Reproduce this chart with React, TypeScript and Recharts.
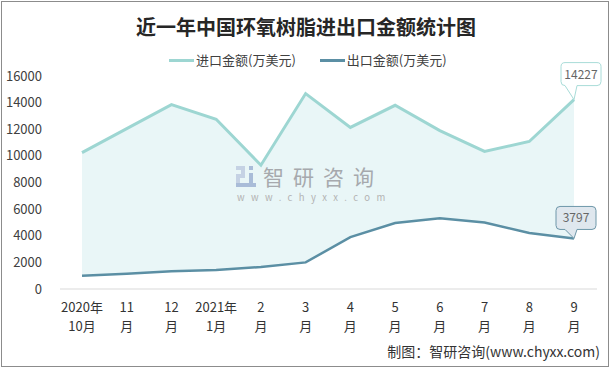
import React from "react";
import {
  Area,
  ComposedChart,
  LabelList,
  Line,
  XAxis,
  YAxis,
} from "recharts";

const months = [
  ["2020年", "10月"],
  ["11", "月"],
  ["12", "月"],
  ["2021年", "1月"],
  ["2", "月"],
  ["3", "月"],
  ["4", "月"],
  ["5", "月"],
  ["6", "月"],
  ["7", "月"],
  ["8", "月"],
  ["9", "月"],
];
const importValues = [10240, 12050, 13850, 12750, 9300, 14680, 12140, 13800, 11900, 10340, 11080, 14227];
const exportValues = [1000, 1150, 1340, 1420, 1650, 2000, 3900, 4950, 5320, 5000, 4200, 3797];
const yTicks = [0, 2000, 4000, 6000, 8000, 10000, 12000, 14000, 16000];

const IMPORT_COLOR = "#9dd6d2";
const EXPORT_COLOR = "#5b8fa4";
const FONT = '"Noto Sans CJK SC", "Noto Sans", sans-serif';

const chartData = months.map((m, i) => ({
  name: m.join(""),
  imp: importValues[i],
  exp: exportValues[i],
  range: [exportValues[i], importValues[i]],
}));

const MonthTick = (props: any) => {
  const { x, y, index } = props;
  const m = months[index] || ["", ""];
  return (
    <g>
      <text x={x} y={y + 23} textAnchor="middle" fontSize={13} fill="#333" fontFamily={FONT}>
        {m[0]}
      </text>
      <text x={x} y={y + 42} textAnchor="middle" fontSize={13} fill="#333" fontFamily={FONT}>
        {m[1]}
      </text>
    </g>
  );
};

// callout bubble only on the last point
const makeCallout = (fill: string, stroke: string, dx: number, dy: number) => (props: any) => {
  const { x, y, value, index } = props;
  if (index !== months.length - 1) return null;
  const w = 40;
  const h = 23;
  const left = x + dx;
  const top = y + dy;
  const bottom = top + h;
  const r = 4;
  const path = [
    `M${left + r},${top}`,
    `H${left + w - r}`,
    `Q${left + w},${top} ${left + w},${top + r}`,
    `V${bottom - r}`,
    `Q${left + w},${bottom} ${left + w - r},${bottom}`,
    `H${x + 3}`,
    `L${x},${y}`,
    `L${x - 9},${bottom}`,
    `H${left + r}`,
    `Q${left},${bottom} ${left},${bottom - r}`,
    `V${top + r}`,
    `Q${left},${top} ${left + r},${top}`,
    "Z",
  ].join(" ");
  return (
    <g>
      <path d={path} fill={fill} stroke={stroke} strokeWidth={1} />
      <text
        x={left + w / 2}
        y={top + h / 2 + 4.5}
        textAnchor="middle"
        fontSize={12}
        fill="#666"
        fontFamily={FONT}
      >
        {value}
      </text>
    </g>
  );
};

export default function App() {
  return (
    <div
      style={{
        position: "absolute",
        left: 0,
        top: 0,
        width: 612,
        height: 369,
        background: "#fff",
        fontFamily: FONT,
      }}
    >
      <div
        style={{
          position: "absolute",
          left: 1,
          top: 1,
          width: 608,
          height: 366,
          border: "1px solid #8c8c8c",
          boxSizing: "border-box",
        }}
      />
      <div
        style={{
          position: "absolute",
          left: 0,
          top: 13,
          width: 612,
          textAlign: "center",
          fontSize: 20,
          fontWeight: "bold",
          color: "#262626",
          lineHeight: "28px",
        }}
      >
        近一年中国环氧树脂进出口金额统计图
      </div>
      <div
        style={{
          position: "absolute",
          left: 169,
          top: 51,
          display: "flex",
          alignItems: "center",
          fontSize: 13,
          color: "#404040",
          lineHeight: "18px",
        }}
      >
        <span style={{ width: 25, height: 3, background: IMPORT_COLOR, marginRight: 2 }} />
        <span>进口金额(万美元)</span>
        <span style={{ width: 25, height: 3, background: EXPORT_COLOR, marginLeft: 24, marginRight: 2 }} />
        <span>出口金额(万美元)</span>
      </div>

      <div style={{ position: "absolute", left: 0, top: 0 }}>
        <ComposedChart
          width={612}
          height={369}
          data={chartData}
          margin={{ top: 76, right: 15, bottom: 30, left: 0 }}
        >
          <XAxis
            dataKey="name"
            height={50}
            padding={{ left: 22, right: 23 }}
            axisLine={{ stroke: "#d9d9d9", strokeWidth: 1 }}
            tickLine={false}
            tickSize={0}
            tickMargin={0}
            interval={0}
            tick={<MonthTick />}
          />
          <YAxis
            width={60}
            domain={[0, 16000]}
            ticks={yTicks}
            axisLine={false}
            tickLine={false}
            tickSize={0}
            tickMargin={18}
            tick={{ fontSize: 13, fill: "#404040", fontFamily: FONT }}
          />
          <Area
            dataKey="range"
            type="linear"
            stroke="none"
            fill="#e9f6f7"
            fillOpacity={1}
            isAnimationActive={false}
          />
          <Line
            dataKey="imp"
            type="linear"
            stroke={IMPORT_COLOR}
            strokeWidth={3}
            dot={false}
            isAnimationActive={false}
          >
            <LabelList dataKey="imp" content={makeCallout("#ffffff", "#a8dcd8", -13, -37)} />
          </Line>
          <Line
            dataKey="exp"
            type="linear"
            stroke={EXPORT_COLOR}
            strokeWidth={2.5}
            dot={false}
            isAnimationActive={false}
          >
            <LabelList dataKey="exp" content={makeCallout("#dfe7ee", "#6e97a9", -18, -32)} />
          </Line>
        </ComposedChart>
      </div>

      {/* watermark, drawn above the filled band */}
      <svg
        width={180}
        height={56}
        style={{ position: "absolute", left: 230, top: 156, pointerEvents: "none", overflow: "visible" }}
      >
        <rect x={6} y={10} width={9} height={4} fill="#c5d2e4" />
        <rect x={11} y={10} width={4} height={12} fill="#c5d2e4" />
        <rect x={6} y={18} width={9} height={4} fill="#c5d2e4" />
        <rect x={6} y={18} width={4} height={13} fill="#c5d2e4" />
        <rect x={6} y={27} width={20} height={4} fill="#a9bcd8" />
        <rect x={19} y={10} width={4} height={4} fill="#a9bcd8" />
        <rect x={19} y={17} width={4} height={12} fill="#a9bcd8" />
        <text x={33} y={29} fontSize={21} fill="#a6a9ad" letterSpacing={9} fontFamily={FONT}>
          智研咨询
        </text>
        <text x={7} y={45} fontSize={9.5} fill="#b3b3b3" letterSpacing={6.4} fontFamily={FONT}>
          www.chyxx.com
        </text>
      </svg>

      <div
        style={{
          position: "absolute",
          right: 12,
          top: 341,
          fontSize: 14,
          color: "#333",
          lineHeight: "20px",
          whiteSpace: "nowrap",
        }}
      >
        制图：智研咨询(www.chyxx.com)
      </div>
    </div>
  );
}
